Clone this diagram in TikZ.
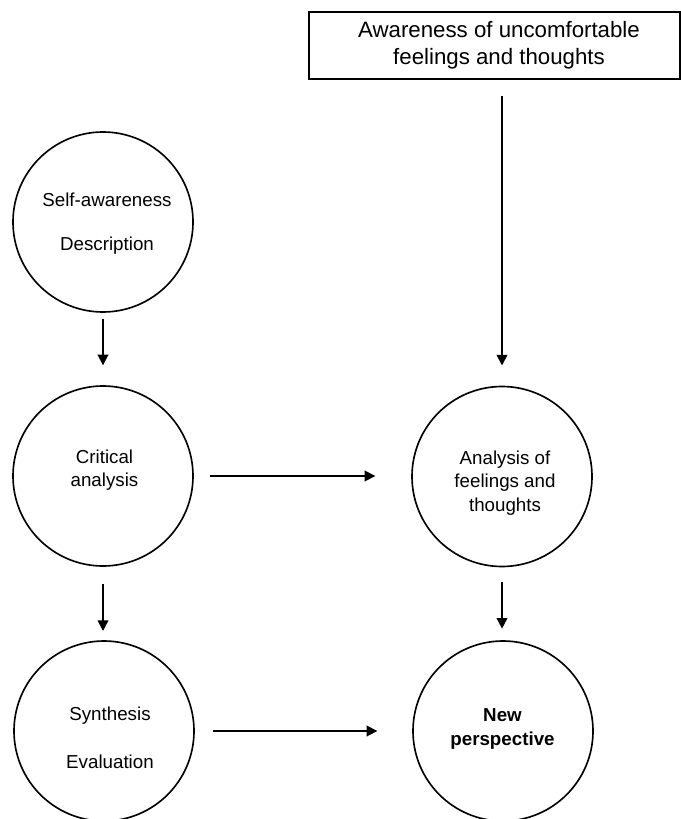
\documentclass[tikz,border=0pt]{standalone}
\usepackage{fontspec}
\setmainfont{Liberation Sans}
\usetikzlibrary{arrows.meta}

\tikzset{
  stage/.style={circle, draw=black, line width=1.4pt, minimum size=5.4cm, inner sep=0pt, outer sep=0pt},
  stagetext/.style={align=center, inner sep=0pt, font=\fontsize{16}{20}\selectfont},
  topbox/.style={rectangle, draw=black, line width=1pt, minimum width=11.13cm, minimum height=2.01cm,
                 inner sep=0pt},
  boxtext/.style={align=center, inner sep=0pt, font=\fontsize{19}{23}\selectfont},
  flow/.style={-{Triangle[length=0.32cm,width=0.32cm]}, line width=1.4pt},
}

\begin{document}
\begin{tikzpicture}[x=0.03cm, y=-0.03cm]
  \useasboundingbox (0,0) rectangle (681,819);

  % top box and its text
  \node[topbox] (aware) at (494.5,45.5) {};
  \node[boxtext] (awaret) at (499,45.5) {Awareness of uncomfortable\\feelings and thoughts};

  % left column
  \node[stage] (self)  at (103,222) {};
  \node[stage] (crit)  at (103,476) {};
  \node[stage] (synth) at (104,731) {};

  % right column
  \node[stage] (anal) at (502,476.5) {};
  \node[stage] (newp) at (503,731) {};

  % circle texts
  \node[stagetext] (selft)  at (107,224) {Self-awareness\\[17.5pt]Description};
  \node[stagetext] (critt)  at (104.5,470) {Critical\\analysis};
  \node[stagetext] (syntht) at (110,738) {Synthesis\\[21pt]Evaluation};
  \node[stagetext] (analt)  at (505,483) {Analysis of\\feelings and\\thoughts};
  \node[stagetext, font=\fontsize{16}{20}\selectfont\bfseries] (newpt) at (502.5,729) {New\\perspective};

  % connectors
  \draw[flow, shorten <=0.22cm, shorten >=0.62cm] (self) -- (crit);
  \draw[flow, shorten <=0.55cm, shorten >=0.3cm] (crit) -- (synth.north -| crit);
  \draw[flow, shorten <=0.52cm, shorten >=1.1cm] (crit) -- (anal.west |- crit);
  \draw[flow, shorten <=0.57cm, shorten >=1.07cm] (synth) -- (newp);
  \draw[flow, shorten <=0.45cm, shorten >=0.37cm] (anal) -- (newp.north -| anal);
  \draw[flow, shorten <=0.48cm, shorten >=0.63cm] (aware.south -| anal) -- (anal);
\end{tikzpicture}
\end{document}
